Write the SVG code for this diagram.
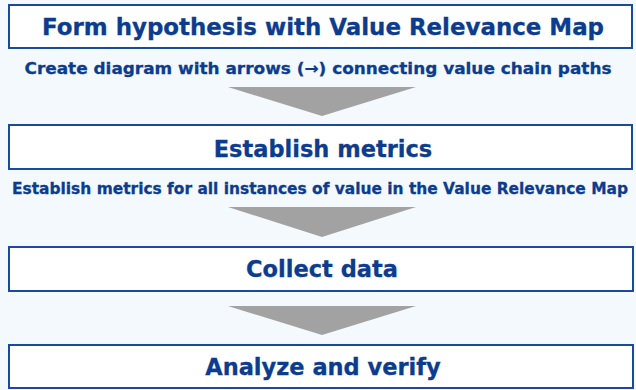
<svg xmlns="http://www.w3.org/2000/svg" width="636" height="390" viewBox="0 0 636 390">
<style>
.bg{fill:#f4f9fd}
.box{fill:#ffffff;stroke:#1b4a9b;stroke-width:2}
.t{font-family:"DejaVu Sans",Verdana,sans-serif;font-weight:bold;fill:#0c3c8e;stroke:#0c3c8e;stroke-width:0.3;text-anchor:middle}
.title{font-size:22.5px}
.sub{font-size:16px}
.arr{fill:#a2a2a2}
</style>
<rect class="bg" x="0" y="0" width="636" height="390"/>
<g id="node1">
<rect class="box" x="9" y="5" width="623" height="43"/>
<text class="t title" x="323" y="35" textLength="562" lengthAdjust="spacingAndGlyphs">Form hypothesis with Value Relevance Map</text>
</g>
<g id="label1">
<text class="t sub" x="318" y="74" textLength="587" lengthAdjust="spacingAndGlyphs">Create diagram with arrows (→) connecting value chain paths</text>
</g>
<g id="node2">
<rect class="box" x="9" y="125" width="623" height="44"/>
<text class="t title" x="323" y="157">Establish metrics</text>
</g>
<g id="label2">
<text class="t sub" x="320" y="194" style="font-size:15.2px" textLength="616" lengthAdjust="spacingAndGlyphs">Establish metrics for all instances of value in the Value Relevance Map</text>
</g>
<g id="node3">
<rect class="box" x="9" y="247" width="624" height="44"/>
<text class="t title" x="322" y="277">Collect data</text>
</g>
<g id="node4">
<rect class="box" x="9" y="345" width="624" height="43"/>
<text class="t title" x="323" y="375">Analyze and verify</text>
</g>
<g id="connectors">
<polygon class="arr" points="228,87 416,87 322,116"/>
<polygon class="arr" points="228,207 416,207 322,237"/>
<polygon class="arr" points="228,306 416,306 322,335"/>
</g>
</svg>
